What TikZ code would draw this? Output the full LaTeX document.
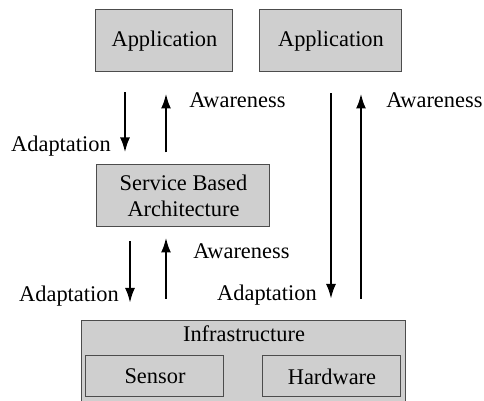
\documentclass[tikz,border=0pt]{standalone}
\usepackage{fontspec}
\setmainfont{Liberation Serif}
\usetikzlibrary{arrows.meta, positioning, calc}

\begin{document}
\begin{tikzpicture}[x=0.5pt, y=-0.5pt,
box/.style={rectangle, draw=black!70, fill=black!19, line width=0.5pt, align=center},
flow/.style={-{Latex[length=7.5pt,width=5pt]}, line width=1.2pt}]
\tikzstyle{every node}=[font=\fontsize{11.2}{13}\selectfont]
\clip (0,0) rectangle (484,401);
% layers
\node[box, minimum width=68.5pt, minimum height=31pt] (app1) at (164.5,41) {Application};
\node[box, minimum width=71pt, minimum height=31pt] (app2) at (331,41) {Application};
\node[box, minimum width=86.5pt, minimum height=31pt] (sba) at (183.5,196) {Service Based\\Architecture};
\node[box, minimum width=162pt, minimum height=46pt, anchor=north] (infra) at (244,320) {};
\node (infratext) at ($(infra.north)+(0,14)$) {Infrastructure};
\node[box, minimum width=69pt, minimum height=20.5pt] (sensor) at (155,376.5) {Sensor};
\node[box, minimum width=69pt, minimum height=20.5pt] (hw) at (332,376.5) {Hardware};
% application <-> service based architecture
\draw[flow] ($(app1.south)+(-39.5,20)$) -- ($(sba.north)+(-58.5,-12)$)
    node[pos=0.9, left=3.2pt] {Adaptation};
\draw[flow] ($(sba.north)+(-17.5,-12)$) -- ($(app1.south)+(1.5,21)$)
    node[pos=0.88, right=7.7pt] {Awareness};
% service based architecture <-> infrastructure
\draw[flow] ($(sba.south)+(-53.5,14)$) -- ($(infra.north)+(-114,-17)$)
    node[pos=0.89, left=1.7pt] {Adaptation};
\draw[flow] ($(infra.north)+(-78,-21)$) -- ($(sba.south)+(-17.5,10)$)
    node[pos=0.77, right=9.7pt] {Awareness};
% application <-> infrastructure
\draw[flow] ($(app2.south)+(0,21)$) -- ($(infra.north)+(87,-21)$)
    node[pos=0.98, left=3.2pt] {Adaptation};
\draw[flow] ($(infra.north)+(117,-21)$) -- ($(app2.south)+(30,21)$)
    node[pos=0.966, right=8.7pt] {Awareness};
\end{tikzpicture}
\end{document}
